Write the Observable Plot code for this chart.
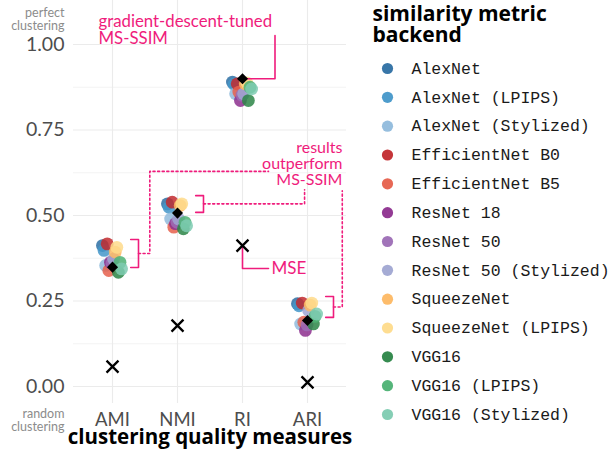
<!DOCTYPE html>
<html><head><meta charset="utf-8">
<script src="https://cdn.jsdelivr.net/npm/d3@7"></script>
<script src="https://cdn.jsdelivr.net/npm/@observablehq/plot@0.6"></script>
<style>
body{margin:0;background:#fff;}
#wrap{position:relative;width:610px;height:461px;overflow:hidden;font-family:Lato,sans-serif;}
#main{position:absolute;left:0;top:0;}
#legend{position:absolute;left:360px;top:0;}
</style></head><body><div id="wrap"><div id="main"></div><div id="legend"></div></div>
<script>
const measures = ["AMI", "NMI", "RI", "ARI"];
const backends = ["AlexNet", "AlexNet (LPIPS)", "AlexNet (Stylized)", "EfficientNet B0", "EfficientNet B5",
  "ResNet 18", "ResNet 50", "ResNet 50 (Stylized)", "SqueezeNet", "SqueezeNet (LPIPS)",
  "VGG16", "VGG16 (LPIPS)", "VGG16 (Stylized)"];
const backendColors = ["#2d6fa3", "#4497c9", "#90bbdc", "#c22a2e", "#e6604c",
  "#8d2f8e", "#9c6db5", "#a0a6d2", "#fdb863", "#fedb8b",
  "#2b8547", "#4cb173", "#7ecbb1"];
// values per backend (same order as backends)
const amiValues = [0.412, 0.398, 0.354, 0.417, 0.339, 0.363, 0.360, 0.373, 0.393, 0.407, 0.334, 0.363, 0.344];
const nmiValues = [0.534, 0.524, 0.490, 0.539, 0.466, 0.476, 0.480, 0.490, 0.529, 0.534, 0.461, 0.480, 0.470];
const riValues  = [0.890, 0.884, 0.856, 0.885, 0.861, 0.836, 0.852, 0.856, 0.885, 0.888, 0.836, 0.875, 0.870];
const ariValues = [0.242, 0.236, 0.183, 0.244, 0.188, 0.164, 0.180, 0.222, 0.238, 0.244, 0.183, 0.205, 0.212];
// reference metrics, per measure
const msssimValues = [0.349, 0.507, 0.900, 0.193];
const mseValues = [0.058, 0.178, 0.412, 0.012];
const yTicks = [0, 0.25, 0.5, 0.75, 1];
const yMinorTicks = [0.125, 0.375, 0.625, 0.875];

const measureValues = [amiValues, nmiValues, riValues, ariValues];
const points = measures.flatMap((m, i) => backends.map((b, j) => ({measure: i, backend: b, value: measureValues[i][j]})));
const refs = measures.map((m, i) => ({measure: i, msssim: msssimValues[i], mse: mseValues[i]}));
const jitter = d3.scalePoint(backends, [-0.155, 0.14]);
const pink = "#ef1c7c";
const boldFont = "'Open Sans', Lato, sans-serif";

// annotation geometry (data units)
const brackets = [{m: 0, lo: 0.348, hi: 0.43}, {m: 1, lo: 0.509, hi: 0.558}, {m: 3, lo: 0.202, hi: 0.263}];
const solidPaths = [];
brackets.forEach((b, k) => {
  [[b.m + 0.28, b.hi], [b.m + 0.40, b.hi], [b.m + 0.40, b.lo], [b.m + 0.28, b.lo]]
    .forEach(([x, y]) => solidPaths.push({id: "b" + k, x, y}));
});
[[2, msssimValues[2]], [2.5, msssimValues[2]], [2.5, 1.026]].forEach(([x, y]) => solidPaths.push({id: "gd", x, y}));
[[2, mseValues[2]], [2, 0.345], [2.40, 0.345]].forEach(([x, y]) => solidPaths.push({id: "mse", x, y}));
const dottedPaths = [];
[[0.40, 0.389], [0.574, 0.389], [0.574, 0.629], [2.40, 0.629]].forEach(([x, y]) => dottedPaths.push({id: "a", x, y}));
[[1.40, 0.534], [2.955, 0.534], [2.955, 0.575]].forEach(([x, y]) => dottedPaths.push({id: "n", x, y}));
[[3.40, 0.2325], [3.535, 0.2325], [3.535, 0.572]].forEach(([x, y]) => dottedPaths.push({id: "r", x, y}));

const main = Plot.plot({
  width: 360, height: 461,
  marginLeft: 73, marginRight: 14, marginTop: 0, marginBottom: 58,
  style: {fontFamily: "Lato, sans-serif", background: "transparent", overflow: "visible", color: "#4d4d4d"},
  x: {type: "linear", domain: [-0.6, 3.6], axis: null},
  y: {domain: [0, 1], range: [386, 44], axis: null},
  color: {domain: backends, range: backendColors},
  marks: [
    Plot.ruleY(yMinorTicks, {stroke: "#ebebeb", strokeWidth: 0.6}),
    Plot.ruleY(yTicks, {stroke: "#ebebeb", strokeWidth: 1.1}),
    Plot.ruleX(measures.map((m, i) => i), {y1: -0.05, y2: 1.13, stroke: "#ebebeb", strokeWidth: 1.1}),
    Plot.axisY(yTicks, {tickFormat: d3.format(".2f"), tickSize: 0, tickPadding: 9, fontSize: 19.5, fill: "#4d4d4d"}),
    Plot.axisX(measures.map((m, i) => i), {tickFormat: i => measures[i], tickSize: 0, tickPadding: 9.5, fontSize: 18.5, fill: "#4d4d4d", label: null}),
    Plot.text(["clustering quality measures"], {frameAnchor: "bottom", dy: 40.5, fontSize: 20.5, fontWeight: "bold", fill: "black", fontFamily: boldFont}),
    Plot.text(["perfect\nclustering"], {x: -0.6, y: 1, dx: -9, dy: -25.5, textAnchor: "end", fontSize: 12.5, lineHeight: 1.05, fill: "#8c8c8c"}),
    Plot.text(["random\nclustering"], {x: -0.6, y: 0, dx: -9, dy: 33.5, textAnchor: "end", fontSize: 12.5, lineHeight: 1.05, fill: "#8c8c8c"}),
    Plot.dot(points, {x: d => d.measure + jitter(d.backend), y: "value", fill: "backend", r: 6.4, fillOpacity: 0.85}),
    Plot.line(dottedPaths, {x: "x", y: "y", z: "id", stroke: pink, strokeWidth: 1.6, strokeDasharray: "2,2.6"}),
    Plot.line(solidPaths, {x: "x", y: "y", z: "id", stroke: pink, strokeWidth: 1.6}),
    Plot.dot(refs, {x: "measure", y: "msssim", symbol: "diamond2", r: 5, fill: "black"}),
    Plot.dot(refs, {x: "measure", y: "mse", symbol: "times", r: 5.5, stroke: "black", strokeWidth: 2.3}),
    Plot.text(["gradient-descent-tuned\nMS-SSIM"], {x: -0.215, y: 1.042, textAnchor: "start", fontSize: 16.8, lineHeight: 1.0, fill: pink}),
    Plot.text(["results\noutperform\nMS-SSIM"], {x: 3.538, y: 0.652, textAnchor: "end", fontSize: 16, lineHeight: 1.0, fill: pink}),
    Plot.text(["MSE"], {x: 2.446, y: 0.345, textAnchor: "start", fontSize: 17, fill: pink})
  ]
});
document.getElementById("main").append(main);

const legend = Plot.plot({
  width: 250, height: 461, margin: 0,
  style: {background: "transparent", overflow: "visible"},
  x: {domain: [0, 1], range: [27, 51], axis: null},
  y: {type: "point", domain: backends, range: [68, 414], padding: 0, round: false, axis: null},
  color: {domain: backends, range: backendColors},
  marks: [
    Plot.text(["similarity metric\nbackend"], {frameAnchor: "top-left", dx: 12, dy: 6, fontWeight: "bold", fontSize: 21, lineHeight: 0.98, textAnchor: "start", lineAnchor: "top", fill: "black", fontFamily: boldFont}),
    Plot.dot(backends, {x: 0, y: d => d, fill: d => d, r: 5.6, fillOpacity: 0.95}),
    Plot.text(backends, {x: 1, y: d => d, text: d => d, textAnchor: "start", fontFamily: "'Courier New', 'Liberation Mono', monospace", fontSize: 16.5, fill: "#1a1a1a"})
  ]
});
document.getElementById("legend").append(legend);
</script></body></html>
